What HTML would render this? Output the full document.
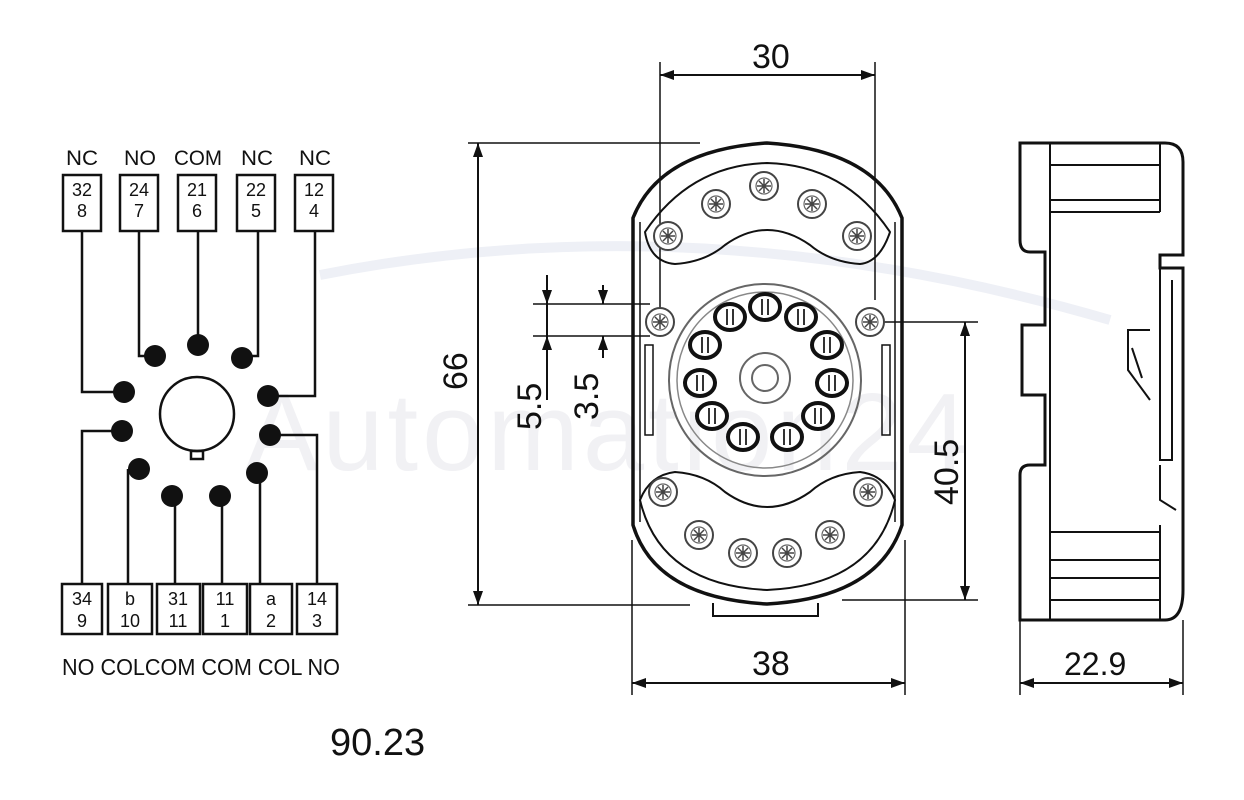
<!DOCTYPE html>
<html><head><meta charset="utf-8"><style>
html,body{margin:0;padding:0;background:#fff;}
svg{display:block;}
text{font-family:"Liberation Sans",Arial,sans-serif;fill:#111;}
</style></head><body>
<svg width="1244" height="800" viewBox="0 0 1244 800" xmlns="http://www.w3.org/2000/svg">
<defs>
<marker id="ar" markerWidth="14" markerHeight="10" refX="14" refY="5" orient="auto" markerUnits="userSpaceOnUse"><path d="M0,0 L14,5 L0,10 z" fill="#111"/></marker>
<g id="scr"><circle r="14" fill="#fff" stroke="#444" stroke-width="2"/><circle r="8" fill="none" stroke="#666" stroke-width="1.2"/><path d="M-7,0H7M0,-7V7M-5,-5L5,5M-5,5L5,-5" stroke="#444" stroke-width="1.5"/></g>
<g id="pin"><ellipse rx="15" ry="13" fill="#fff" stroke="#111" stroke-width="4"/><line x1="-3" y1="-8" x2="-3" y2="8" stroke="#333" stroke-width="2"/><line x1="3" y1="-8" x2="3" y2="8" stroke="#333" stroke-width="2"/></g>
</defs>

<!-- watermark -->
<text x="245" y="470" font-size="110" style="fill:#f1f1f4" letter-spacing="4">Automation24</text>
<path d="M320,275 Q700,200 1110,320" stroke="#eef0f6" stroke-width="10" fill="none"/>

<!-- LEFT WIRING -->
<g font-size="21" text-anchor="middle">
<text x="82" y="165" textLength="32" lengthAdjust="spacingAndGlyphs">NC</text><text x="140" y="165" textLength="32" lengthAdjust="spacingAndGlyphs">NO</text><text x="198" y="165" textLength="48" lengthAdjust="spacingAndGlyphs">COM</text><text x="257" y="165" textLength="32" lengthAdjust="spacingAndGlyphs">NC</text><text x="315" y="165" textLength="32" lengthAdjust="spacingAndGlyphs">NC</text>
</g>
<g fill="none" stroke="#111" stroke-width="2.5">
<rect x="63" y="175" width="38" height="56"/><rect x="120" y="175" width="38" height="56"/><rect x="178" y="175" width="38" height="56"/><rect x="237" y="175" width="38" height="56"/><rect x="295" y="175" width="38" height="56"/>
<rect x="62" y="584" width="40" height="50"/><rect x="108" y="584" width="44" height="50"/><rect x="157" y="584" width="43" height="50"/><rect x="203" y="584" width="44" height="50"/><rect x="250" y="584" width="42" height="50"/><rect x="297" y="584" width="40" height="50"/>
<polyline points="82,231 82,392 124,392"/>
<polyline points="139,231 139,356 155,356"/>
<polyline points="198,231 198,345"/>
<polyline points="258,231 258,356 242,356"/>
<polyline points="315,231 315,396 268,396"/>
<polyline points="122,431 82,431 82,584"/>
<polyline points="128,469 128,584"/>
<polyline points="175,496 175,584"/>
<polyline points="222,496 222,584"/>
<polyline points="260,472 260,584"/>
<polyline points="270,435 317,435 317,584"/>
<circle cx="197" cy="414" r="37"/>
<rect x="191" y="451" width="12" height="8"/>
</g>
<g fill="#111">
<circle cx="124" cy="392" r="11"/><circle cx="155" cy="356" r="11"/><circle cx="198" cy="345" r="11"/><circle cx="242" cy="358" r="11"/><circle cx="268" cy="396" r="11"/>
<circle cx="122" cy="431" r="11"/><circle cx="139" cy="469" r="11"/><circle cx="172" cy="496" r="11"/><circle cx="220" cy="496" r="11"/><circle cx="257" cy="473" r="11"/><circle cx="270" cy="435" r="11"/>
</g>
<g font-size="18" text-anchor="middle">
<text x="82" y="196">32</text><text x="82" y="217">8</text>
<text x="139" y="196">24</text><text x="139" y="217">7</text>
<text x="197" y="196">21</text><text x="197" y="217">6</text>
<text x="256" y="196">22</text><text x="256" y="217">5</text>
<text x="314" y="196">12</text><text x="314" y="217">4</text>
<text x="82" y="605">34</text><text x="82" y="627">9</text>
<text x="130" y="605">b</text><text x="130" y="627">10</text>
<text x="178" y="605">31</text><text x="178" y="627">11</text>
<text x="225" y="605">11</text><text x="225" y="627">1</text>
<text x="271" y="605">a</text><text x="271" y="627">2</text>
<text x="317" y="605">14</text><text x="317" y="627">3</text>
</g>
<text x="62" y="675" font-size="23" textLength="278" lengthAdjust="spacingAndGlyphs">NO COLCOM COM COL NO</text>
<text x="330" y="755" font-size="38">90.23</text>

<!-- MIDDLE DIMENSIONS -->
<g stroke="#111" stroke-width="1.5" fill="none">
<line x1="660" y1="62" x2="660" y2="310"/><line x1="875" y1="62" x2="875" y2="300"/>
<line x1="468" y1="143" x2="700" y2="143"/><line x1="468" y1="605" x2="690" y2="605"/>
<line x1="632" y1="540" x2="632" y2="695"/><line x1="905" y1="540" x2="905" y2="695"/>
<line x1="862" y1="322" x2="978" y2="322"/><line x1="842" y1="600" x2="978" y2="600"/>
<line x1="533" y1="304" x2="650" y2="304"/><line x1="533" y1="336" x2="650" y2="336"/>
</g>
<g stroke="#111" stroke-width="2" fill="none">
<line x1="768" y1="75" x2="660" y2="75" marker-end="url(#ar)"/><line x1="768" y1="75" x2="875" y2="75" marker-end="url(#ar)"/>
<line x1="478" y1="370" x2="478" y2="143" marker-end="url(#ar)"/><line x1="478" y1="370" x2="478" y2="605" marker-end="url(#ar)"/>
<line x1="965" y1="460" x2="965" y2="322" marker-end="url(#ar)"/><line x1="965" y1="460" x2="965" y2="600" marker-end="url(#ar)"/>
<line x1="770" y1="683" x2="632" y2="683" marker-end="url(#ar)"/><line x1="770" y1="683" x2="905" y2="683" marker-end="url(#ar)"/>
<line x1="547" y1="275" x2="547" y2="304" marker-end="url(#ar)"/><line x1="547" y1="365" x2="547" y2="336" marker-end="url(#ar)"/>
<line x1="547" y1="304" x2="547" y2="336"/>
<line x1="603" y1="285" x2="603" y2="304" marker-end="url(#ar)"/><line x1="603" y1="358" x2="603" y2="336" marker-end="url(#ar)"/>
<line x1="547" y1="365" x2="547" y2="400"/>
</g>
<g font-size="34">
<text x="752" y="68">30</text>
<text x="752" y="675">38</text>
<text transform="translate(467,390) rotate(-90)">66</text>
<text transform="translate(958,505) rotate(-90)">40.5</text>
<text transform="translate(541,430) rotate(-90)">5.5</text>
<text transform="translate(598,420) rotate(-90)">3.5</text>
</g>

<!-- BODY -->
<g stroke="#111" fill="none">
<path d="M633,218 Q660,150 767,143 Q875,150 902,218 V525 Q878,598 767,604 Q655,598 633,525 Z" stroke-width="3.5"/>
<line x1="640" y1="222" x2="640" y2="522" stroke-width="1.5"/>
<line x1="895" y1="222" x2="895" y2="522" stroke-width="1.5"/>
<path d="M645,232 Q690,165 767,163 Q845,165 890,232 Q880,262 860,264 Q830,262 810,245 Q767,215 725,245 Q705,262 675,264 Q650,262 645,232 Z" stroke-width="2"/>
<path d="M640,500 Q650,475 675,472 Q705,474 725,492 Q767,522 810,492 Q830,474 860,472 Q885,475 895,500 Q875,585 767,590 Q660,585 640,500 Z" stroke-width="2"/>
<circle cx="765" cy="380" r="96" stroke="#666" stroke-width="2"/>
<circle cx="765" cy="380" r="88" stroke="#888" stroke-width="1.5"/>
<circle cx="765" cy="378" r="25" stroke="#666" stroke-width="2"/>
<circle cx="765" cy="378" r="13" stroke="#666" stroke-width="2"/>
<rect x="645" y="345" width="8" height="90" stroke-width="1.5"/>
<rect x="882" y="345" width="8" height="90" stroke-width="1.5"/>
<path d="M713,603 V616 H818 V603" stroke-width="2"/>
</g>
<g>
<use href="#scr" x="660" y="322"/><use href="#scr" x="870" y="322"/>
<use href="#scr" x="668" y="236"/><use href="#scr" x="716" y="204"/><use href="#scr" x="764" y="186"/><use href="#scr" x="812" y="204"/><use href="#scr" x="857" y="236"/>
<use href="#scr" x="663" y="492"/><use href="#scr" x="699" y="535"/><use href="#scr" x="743" y="553"/><use href="#scr" x="787" y="553"/><use href="#scr" x="830" y="535"/><use href="#scr" x="868" y="492"/>
<use href="#pin" x="765" y="307"/><use href="#pin" x="801" y="317"/><use href="#pin" x="827" y="345"/><use href="#pin" x="832" y="383"/><use href="#pin" x="818" y="416"/><use href="#pin" x="787" y="437"/>
<use href="#pin" x="743" y="437"/><use href="#pin" x="712" y="416"/><use href="#pin" x="700" y="383"/><use href="#pin" x="705" y="345"/><use href="#pin" x="730" y="317"/>
</g>

<!-- SIDE VIEW -->
<g stroke="#111" fill="none" stroke-width="3">
<path d="M1020,143 H1165 Q1183,143 1183,162 V255 H1160 V268 H1183 V590 Q1183,620 1165,620 H1020 V475 Q1020,465 1030,465 H1045 V395 H1022 V325 H1045 V252 H1030 Q1020,252 1020,240 Z"/>
</g>
<g stroke="#111" fill="none" stroke-width="2">
<line x1="1050" y1="143" x2="1050" y2="620"/>
<line x1="1050" y1="165" x2="1160" y2="165"/><line x1="1050" y1="200" x2="1160" y2="200"/><line x1="1050" y1="212" x2="1160" y2="212"/>
<line x1="1050" y1="532" x2="1160" y2="532"/><line x1="1050" y1="560" x2="1160" y2="560"/><line x1="1050" y1="578" x2="1160" y2="578"/><line x1="1050" y1="600" x2="1160" y2="600"/>
<line x1="1160" y1="143" x2="1160" y2="212"/><line x1="1160" y1="525" x2="1160" y2="620"/>
<path d="M1160,268 V460 H1172 V280"/>
<path d="M1150,330 H1128 V370 L1150,400 M1132,348 L1142,378"/>
<path d="M1160,465 V500 L1176,510"/>
</g>
<g stroke="#111" stroke-width="1.5"><line x1="1020" y1="620" x2="1020" y2="695"/><line x1="1183" y1="620" x2="1183" y2="695"/></g>
<g stroke="#111" stroke-width="2"><line x1="1100" y1="683" x2="1020" y2="683" marker-end="url(#ar)"/><line x1="1100" y1="683" x2="1183" y2="683" marker-end="url(#ar)"/></g>
<text x="1064" y="675" font-size="32">22.9</text>
</svg>
</body></html>
